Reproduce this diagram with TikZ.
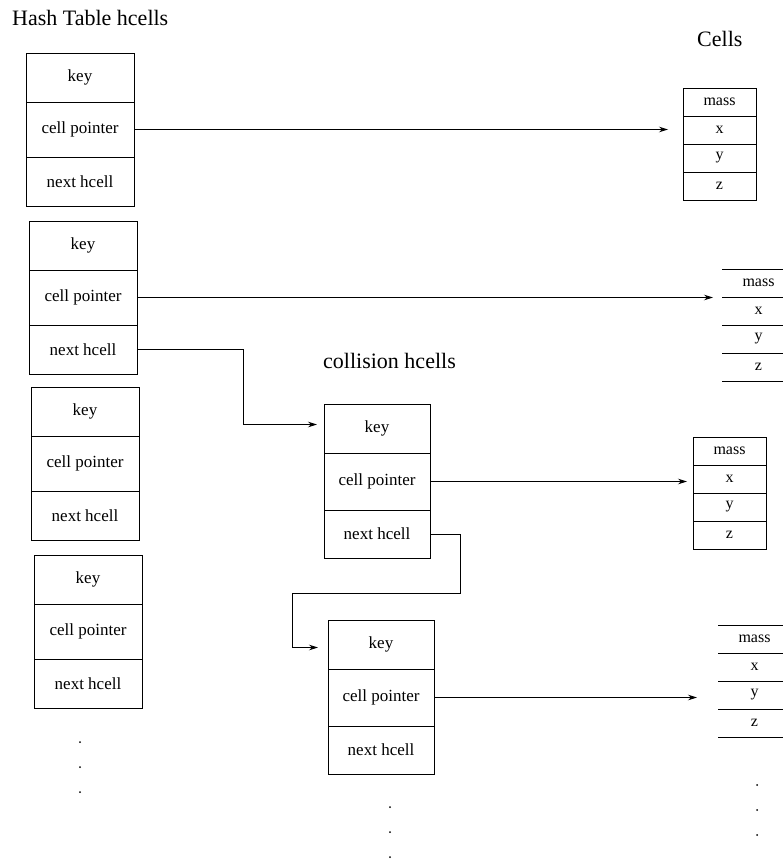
\documentclass[tikz,border=0pt]{standalone}
\usepackage{fontspec}
\setmainfont{Liberation Serif}
\usetikzlibrary{positioning,arrows.meta}

\begin{document}
\begin{tikzpicture}[x=1pt, y=-1pt,
        f/.style={draw, line width=0.75pt, inner sep=0pt, outer sep=0pt, minimum width=108pt, font=\fontsize{17}{19}\selectfont},
        cf/.style={f, minimum width=106pt},
        c/.style={line width=0.75pt, inner sep=0pt, outer sep=0pt, minimum width=73pt, minimum height=28pt, font=\fontsize{16}{18}\selectfont},
        ttl/.style={anchor=base west, inner sep=0pt, font=\fontsize{22}{25}\selectfont},
        arr/.style={-{Stealth[length=9pt, width=5.5pt]}, line width=0.75pt},
        dot/.style={circle, fill, inner sep=0pt, minimum size=2pt}]
      \useasboundingbox (0,0) rectangle (783,864);
      \node[ttl] (tht) at (12,26) {Hash Table hcells};
      \node[ttl] (cht) at (323,368) {collision hcells};
      \node[ttl] (clt) at (697,47) {Cells};
      \foreach \i/\x/\y in {1/26/53, 2/29/221, 3/31/387, 4/34/555} {
        \node[f, minimum height=49pt, anchor=north west] (key\i) at (\x,\y) {key};
        \node[f, minimum height=55pt, below=0pt of key\i] (cp\i) {cell pointer};
        \node[f, minimum height=49pt, below=0pt of cp\i] (nx\i) {next hcell};
      }
      \foreach \i/\x/\y in {1/324/404, 2/328/620} {
        \node[cf, minimum height=49pt, anchor=north west] (ck\i) at (\x,\y) {key};
        \node[cf, minimum height=57pt, below=0pt of ck\i] (cc\i) {cell pointer};
        \node[cf, minimum height=48pt, below=0pt of cc\i] (cn\i) {next hcell};
      }
      \foreach \i/\x/\y/\d in {1/683/88/black, 2/722/269/none, 3/693/437/black, 4/718/625/none} {
        \node[c, draw=\d, anchor=north west] (m\i) at (\x,\y) {mass};
        \node[c, draw=\d, below=0pt of m\i] (x\i) {x};
        \node[c, draw=\d, below=0pt of x\i] (y\i) {y};
        \node[c, draw=\d, below=0pt of y\i] (z\i) {z};
      }
      \foreach \i in {2,4} {
        \foreach \r in {m,x,y,z} \draw[line width=0.75pt] (\r\i.north west) -- (\r\i.north east);
        \draw[line width=0.75pt] (z\i.south west) -- (z\i.south east);
      }
      \draw[arr, shorten >=15pt] (cp1.east) -- (cp1.east -| x1.west);
      \draw[arr, shorten >=9pt] (cp2.east) -- (cp2.east -| m2.west);
      \draw[arr, shorten >=6pt] (cc1.east) -- (cc1.east -| x3.west);
      \draw[arr, shorten >=21pt] (cc2.east) -- (cc2.east -| y4.west);
      \draw[arr, shorten >=7pt] (nx2.east) -- ++(106,0) |- ([yshift=4pt]ck1.west);
      \draw[arr, shorten >=10pt] (cn1.east) -- ++(30,0) |- (292,593) |- ([yshift=-3pt]ck2.west);
      \foreach \i/\x/\y in {1/80/742, 2/80/767, 3/80/792, 4/390/807, 5/390/832, 6/390/857, 7/757/785, 8/757/810, 9/757/835}
        \node[dot] (dt\i) at (\x,\y) {};
      \end{tikzpicture}
\end{document}
